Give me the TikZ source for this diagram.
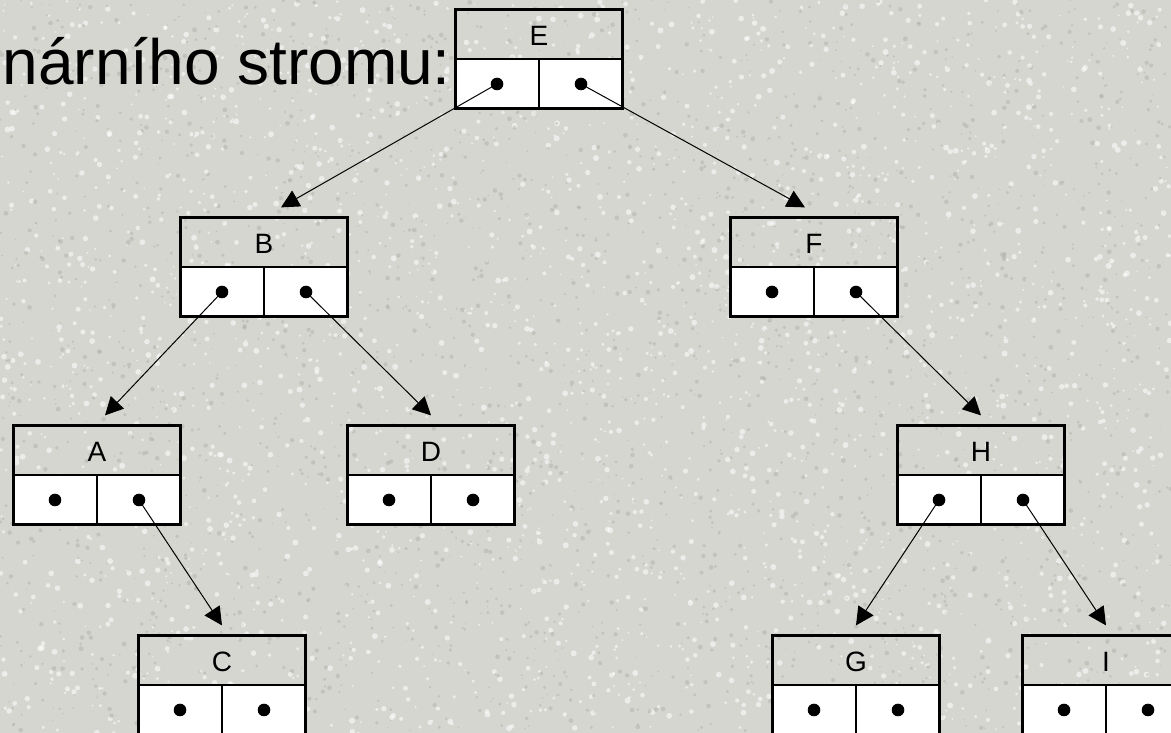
\documentclass[tikz,border=0pt]{standalone}
\usepackage{fontspec}
\setmainfont{Liberation Sans}
\usetikzlibrary{arrows.meta,positioning,calc}

\definecolor{granite}{RGB}{214,214,209}
\definecolor{speck}{RGB}{172,172,166}

\tikzset{
    cell/.style={rectangle, draw, line width=2.2pt, inner sep=0pt,
        minimum width=167pt, minimum height=99pt,
        text height=0pt, text depth=26pt, font=\fontsize{28}{28}\selectfont,
        path picture={
            \fill[white] (path picture bounding box.west) rectangle (path picture bounding box.south east);
            \draw[line width=2.2pt] (path picture bounding box.west) -- (path picture bounding box.east)
                (path picture bounding box.center) -- (path picture bounding box.south);
            \fill ([shift={(-42pt,-25pt)}]path picture bounding box.center) circle (6.3pt)
                  ([shift={(42pt,-25pt)}]path picture bounding box.center) circle (6.3pt);
        }},
    ptr/.style={line width=1pt, -{Triangle[length=18pt,width=18pt]}}
}

\begin{document}
\begin{tikzpicture}[
    x=1pt, y=1pt,
    level distance=208pt,
    level 1/.style={sibling distance=550pt},
    level 2/.style={sibling distance=334pt},
    level 3/.style={sibling distance=250pt, level distance=210pt},
    every child node/.style={cell},
    edge from parent/.style={draw=none}
]
\useasboundingbox (0,0) rectangle (1171,733);

% stone background
\fill[granite] (0,0) rectangle (1171,733);
\pgfmathsetseed{42}
\foreach \k in {1,...,2600} {
    \fill[white, opacity=0.55] ({rnd*1171},{rnd*733}) circle[radius={0.8+rnd*2.2}];
    \fill[speck, opacity=0.45] ({rnd*1171},{rnd*733}) circle[radius={0.6+rnd*1.8}];
}

\node[font=\fontsize{64}{64}\selectfont, anchor=base east, inner sep=0pt] (title) at (451,648) {nárního stromu:};

\node[cell] (E) at (539,674) {E}
    child {node (B) {B}
        child {node (A) {A}
            child[missing]
            child {node (C) {C}}
        }
        child {node (D) {D}}
    }
    child {node (F) {F}
        child[missing]
        child {node (H) {H}
            child {node (G) {G}}
            child {node (I) {I}}
        }
    };

% pointers from the dots
\foreach \from/\to/\dx/\tx in {E/B/-42/17, E/F/42/-9, B/A/-42/8, B/D/42/0,
                               A/C/42/0, F/H/42/0, H/G/-42/0, H/I/42/0}
    \draw[ptr] ([shift={(\dx,-25)}]\from.center) -- ([shift={(\tx,9)}]\to.north);
\end{tikzpicture}
\end{document}
